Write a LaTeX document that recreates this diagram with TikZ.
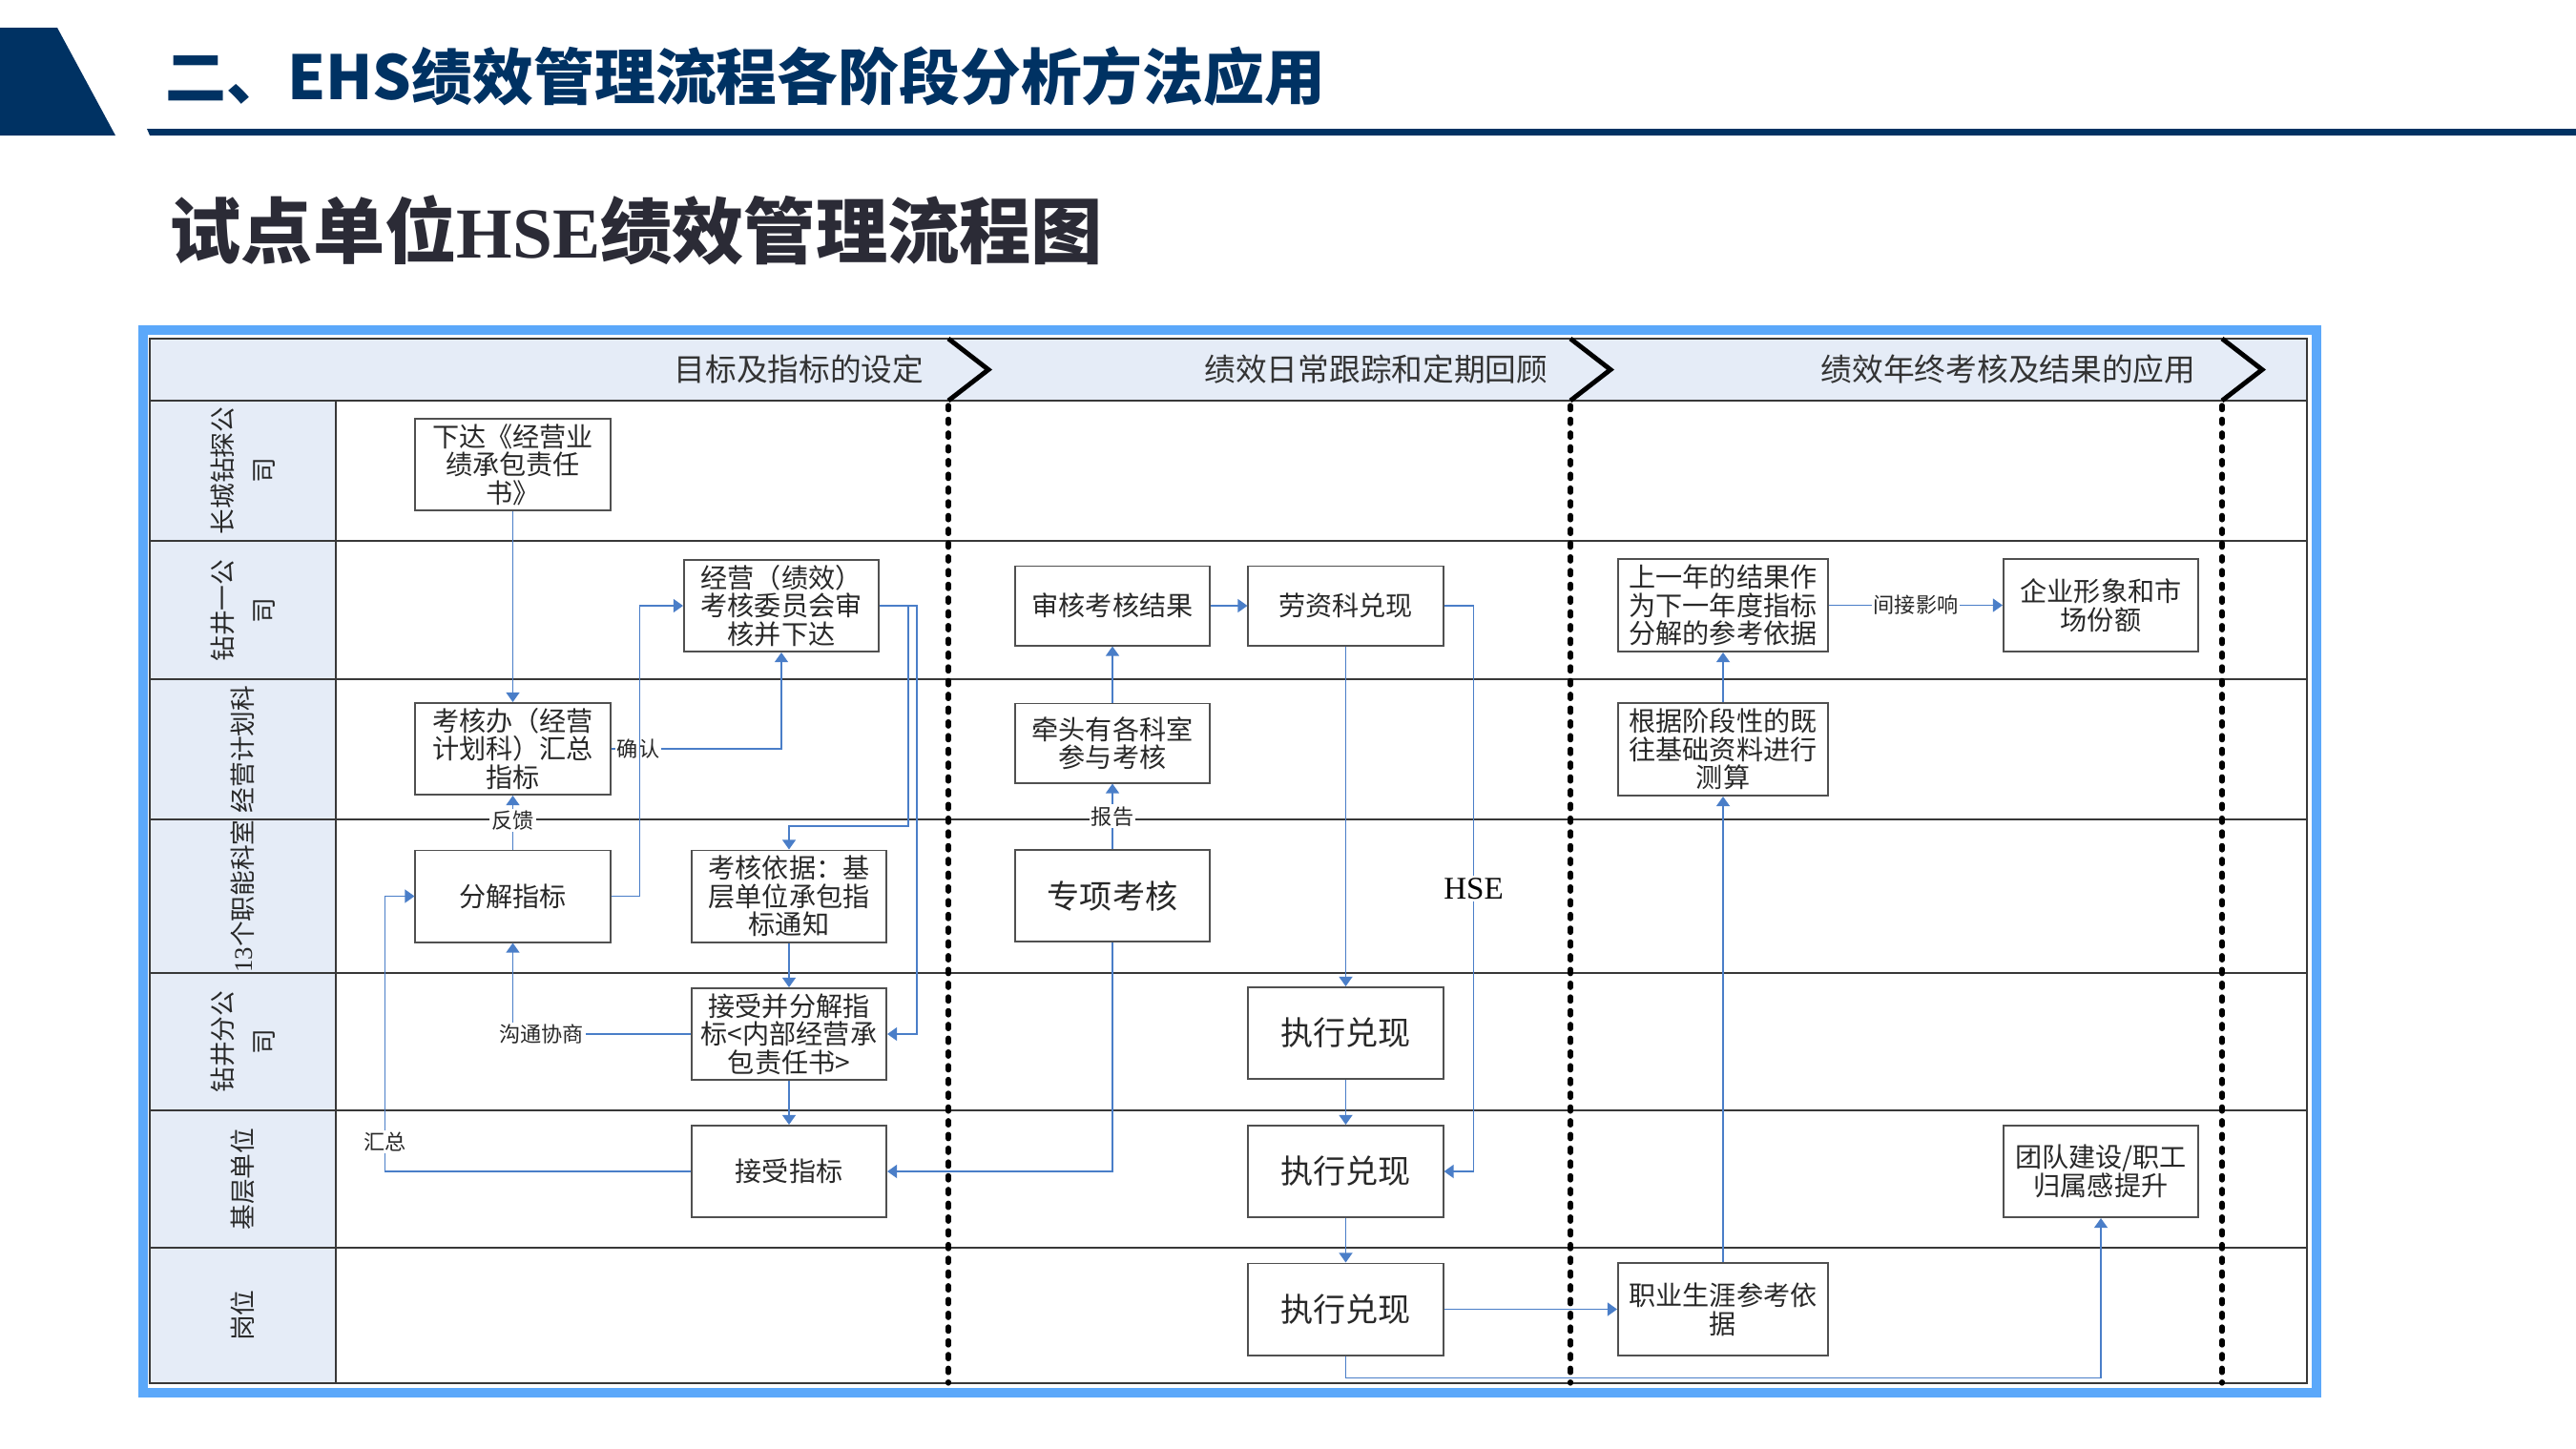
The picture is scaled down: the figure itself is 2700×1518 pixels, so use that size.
\documentclass[tikz,border=0pt]{standalone}
\usepackage{fontspec}
\setmainfont{Noto Sans CJK SC}
\newfontfamily\hsefont{Liberation Serif}
\usetikzlibrary{arrows.meta}
\definecolor{navy}{RGB}{0,50,99}
\definecolor{subgray}{RGB}{43,43,54}
\definecolor{frameblue}{RGB}{91,168,250}
\definecolor{lanefill}{RGB}{229,236,247}
\definecolor{linkblue}{RGB}{74,126,200}
\definecolor{boxline}{RGB}{80,80,80}
\definecolor{inkgray}{RGB}{40,40,40}

\begin{document}
\begin{tikzpicture}[x=0.01cm,y=-0.01cm]
	\tikzset{
		stepbox/.style={draw=boxline,line width=0.55pt,fill=white,inner sep=0pt,minimum width=2.04cm,minimum height=0.96cm,align=center,text=inkgray,font=\fontsize{8}{8.4}\selectfont},
		lowbox/.style={stepbox,minimum height=0.83cm},
		widebox/.style={stepbox,minimum width=2.2cm,minimum height=0.97cm},
		bigtext/.style={font=\fontsize{9.7}{11}\selectfont},
		link/.style={draw=linkblue,line width=0.45pt,-{Triangle[length=2.9pt,width=4pt]}},
		tag/.style={fill=white,inner sep=0.6pt,text=inkgray,font=\fontsize{6.3}{7}\selectfont},
		lane/.style={draw=black!78,line width=0.6pt},
		phase/.style={line width=1.5pt,line cap=round,dash pattern=on 1.3pt off 2.8pt},
		chev/.style={line width=1.4pt,line join=miter},
		lanelabel/.style={rotate=90,align=center,text=inkgray,font=\fontsize{7.6}{12.2}\selectfont},
		phaselabel/.style={anchor=east,inner sep=0pt,text=black!80,font=\fontsize{9.3}{10}\selectfont}
	}
	\useasboundingbox (0,0) rectangle (2700,1518);
	\fill[white] (0,0) rectangle (2700,1518);
	\fill[navy] (0,29) -- (60,29) -- (121,142) -- (0,142) -- cycle;
	\fill[navy] (154,135) -- (2700,135) -- (2700,142) -- (157,142) -- cycle;
	\node[anchor=west,inner sep=0pt,text=navy,font=\fontsize{18.15}{19}\selectfont\bfseries] (title) at (173,80) {二、EHS绩效管理流程各阶段分析方法应用};
	\node[anchor=west,inner sep=0pt,text=subgray,font=\fontsize{21.4}{22}\selectfont\bfseries] (subtitle) at (177,241) {试点单位{\hsefont HSE}绩效管理流程图};
	
	\fill[lanefill] (157,355) rectangle (2418,420);
	\fill[lanefill] (157,420) rectangle (352,1450);
	\foreach \ly in {420,567,712,859,1020,1164,1308}
		\draw[lane] (157,\ly) -- (2418,\ly);
	\draw[lane] (352,420) -- (352,1450);
	\draw[lane,line width=0.8pt] (157,355) rectangle (2418,1450);
	\draw[frameblue,line width=2.6pt] (150,346) rectangle (2428,1460);
	\foreach \px in {994,1646,2329}{
		\draw[phase] (\px,425) -- (\px,1450);
		\draw[chev] (\px,355) -- (\px+42,387.5) -- (\px,420);
	}
	\node[phaselabel] (ph1) at (969,387) {目标及指标的设定};
	\node[phaselabel] (ph2) at (1623,387) {绩效日常跟踪和定期回顾};
	\node[phaselabel] (ph3) at (2302,387) {绩效年终考核及结果的应用};
	\foreach \ly/\lt [count=\i] in {493.5/{长城钻探公\\司},640/{钻井一公\\司},785.5/经营计划科,939.5/{{\hsefont 13}个职能科室},1092/{钻井分公\\司},1236/基层单位,1379/岗位}
		\node[lanelabel] (lane\i) at (254.5,\ly) {\lt};
	
	\node[stepbox] (xd) at (537.5,487) {下达《经营业\\绩承包责任\\书》};
	\node[stepbox] (jy) at (819,635) {经营（绩效）\\考核委员会审\\核并下达};
	\node[stepbox] (khb) at (537.5,785) {考核办（经营\\计划科）汇总\\指标};
	\node[stepbox] (fj) at (537.5,939.5) {分解指标};
	\node[stepbox] (khyj) at (827,939.5) {考核依据：基\\层单位承包指\\标通知};
	\node[stepbox] (jsfj) at (827,1084) {接受并分解指\\标<内部经营承\\包责任书>};
	\node[stepbox] (jszb) at (827,1228) {接受指标};
	\node[lowbox] (sh) at (1166,635) {审核考核结果};
	\node[lowbox] (lz) at (1410.5,635) {劳资科兑现};
	\node[lowbox] (qt) at (1166,779) {牵头有各科室\\参与考核};
	\node[stepbox,bigtext] (zx) at (1166,939) {专项考核};
	\node[stepbox,bigtext] (dx1) at (1410.5,1083) {执行兑现};
	\node[stepbox,bigtext] (dx2) at (1410.5,1228) {执行兑现};
	\node[stepbox,bigtext] (dx3) at (1410.5,1372.5) {执行兑现};
	\node[widebox] (sy) at (1806,634.5) {上一年的结果作\\为下一年度指标\\分解的参考依据};
	\node[stepbox,minimum height=0.97cm] (qy) at (2202,634.5) {企业形象和市\\场份额};
	\node[widebox] (gj) at (1806,785.5) {根据阶段性的既\\往基础资料进行\\测算};
	\node[stepbox] (td) at (2202,1228) {团队建设/职工\\归属感提升};
	\node[widebox] (zy) at (1806,1372.5) {职业生涯参考依\\据};
	
	\draw[link] (xd) -- (khb);
	\draw[link] (khb.east) -| node[tag,pos=0.08]{确认} (jy.south);
	\draw[link] (fj.east) -- ++(30,0) |- (jy.west);
	\draw[link] (jy.east) -| ++(30,231) -| (khyj.north);
	\draw[link] (jy.east) -- ++(39,0) |- (jsfj.east);
	\draw[link] (fj) -- node[tag,pos=0.54]{反馈} (khb);
	\draw[link] (jsfj.west) -| node[tag,pos=0.42]{沟通协商} (fj.south);
	\draw[link] (khyj) -- (jsfj);
	\draw[link] (jsfj) -- (jszb);
	\draw[link] (jszb.west) -- ++(-320.5,0) |- node[tag,pos=0.054]{汇总} (fj.west);
	\draw[link] (zx) -- node[tag]{报告} (qt);
	\draw[link] (qt) -- (sh);
	\draw[link] (sh) -- (lz);
	\draw[link] (lz) -- (dx1);
	\draw[link] (lz.east) -- ++(31,0) |- node[tag,pos=0.25,text=black,font=\hsefont\fontsize{9.4}{10}\selectfont]{HSE} (dx2.east);
	\draw[link] (zx.south) |- (jszb.east);
	\draw[link] (dx1) -- (dx2);
	\draw[link] (dx2) -- (dx3);
	\draw[link] (dx3) -- (zy);
	\draw[link] (dx3.south) -- ++(0,23) -| (td.south);
	\draw[link] (zy) -- (gj);
	\draw[link] (gj) -- (sy);
	\draw[link] (sy) -- node[tag]{间接影响} (qy);
\end{tikzpicture}
\end{document}
